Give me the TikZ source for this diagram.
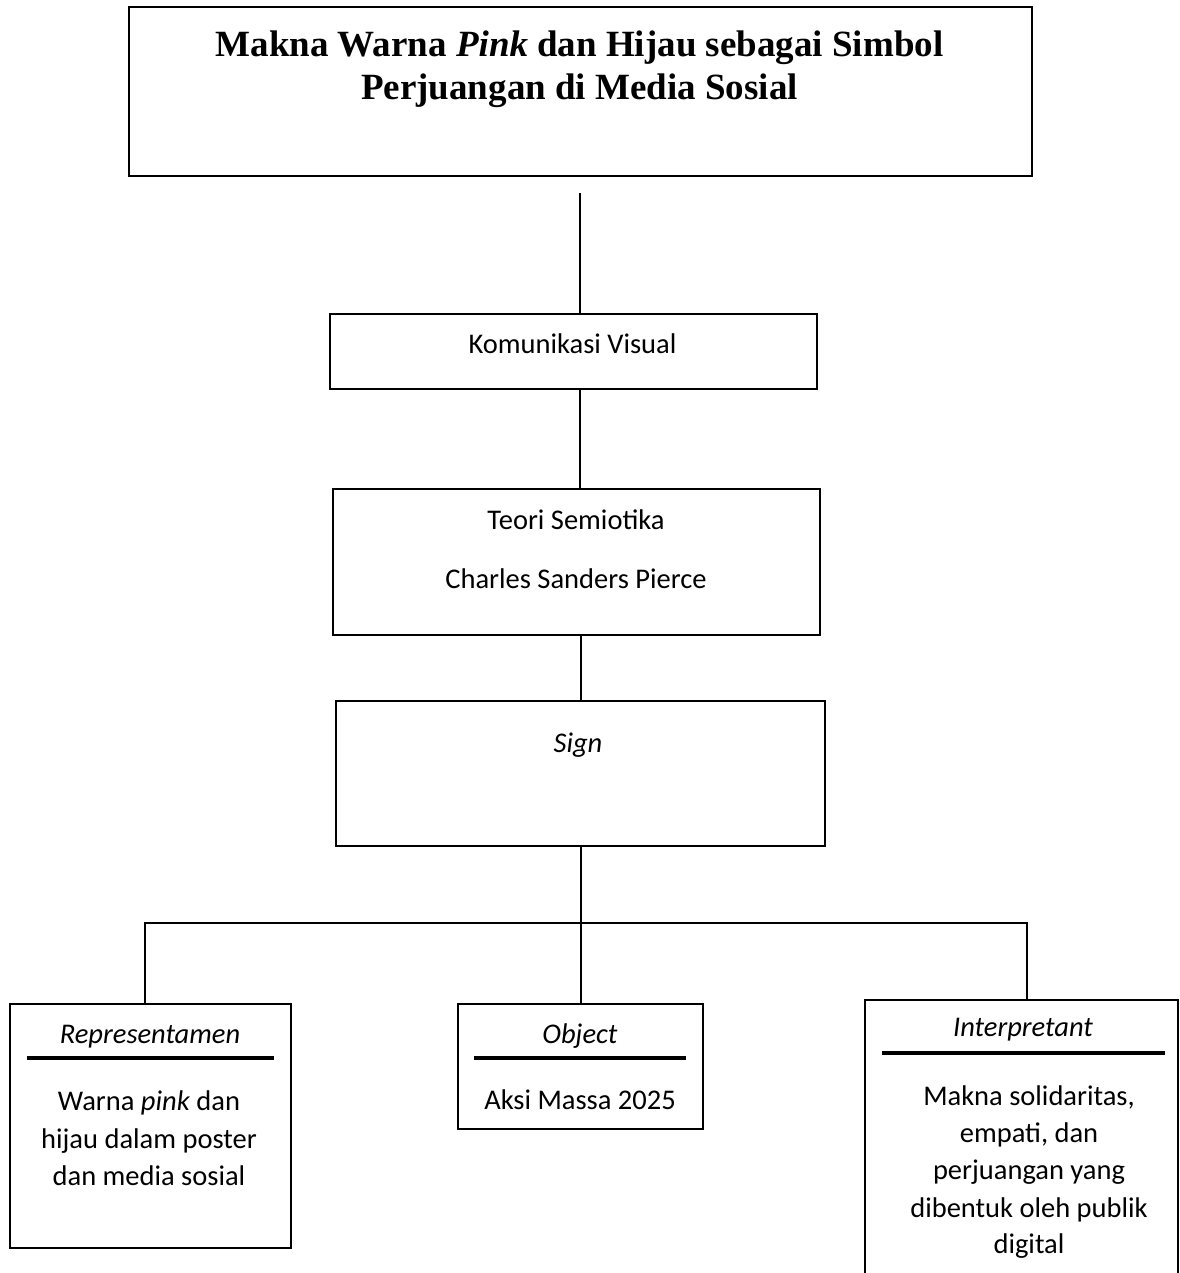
\documentclass[tikz,border=0pt]{standalone}
\usepackage{fontspec}
\setmainfont{Carlito}
\newfontfamily\titlefont{Liberation Serif}
\begin{document}
\begin{tikzpicture}[x=1pt,y=-1pt,
  box/.style={draw, line width=2.2pt, inner sep=0pt, anchor=north west},
  conn/.style={line width=1.2pt},
  rulebar/.style={line width=3.5pt},
  body/.style={font=\fontsize{28.5}{37.5}\selectfont, inner sep=0pt, anchor=base},
  ttl/.style={font=\titlefont\bfseries\fontsize{37}{43}\selectfont, inner sep=0pt, anchor=base}]
\useasboundingbox (0,0) rectangle (1179,1273);

% boxes
\node[box, minimum width=903pt, minimum height=169pt] (title) at (128,6) {};
\node[box, minimum width=487pt, minimum height=75pt] (kom) at (329,313) {};
\node[box, minimum width=487pt, minimum height=146pt] (teori) at (332,488) {};
\node[box, minimum width=489pt, minimum height=145pt] (sign) at (335,700) {};
\node[box, minimum width=281pt, minimum height=244pt] (rep) at (9,1003) {};
\node[box, minimum width=245pt, minimum height=125pt] (obj) at (457,1003) {};
\node[box, minimum width=313pt, minimum height=300pt] (interp) at (864,999) {};

% texts
\node[ttl] (t1) at (579.5,57) {Makna Warna \textit{Pink} dan Hijau sebagai Simbol};
\node[ttl] (t2) at (579.5,100) {Perjuangan di Media Sosial};
\node[body] (komt) at (572.5,353) {Komunikasi Visual};
\node[body] (teorit1) at (576,529) {Teori Semiotika};
\node[body] (teorit2) at (576,588) {Charles Sanders Pierce};
\node[body] (signt) at (578,752) {\textit{Sign}};

\node[body] (rept) at (150,1043) {\textit{Representamen}};
\node[body] (repb1) at (149,1110) {Warna \textit{pink} dan};
\node[body] (repb2) at (149,1148) {hijau dalam poster};
\node[body] (repb3) at (149,1185) {dan media sosial};

\node[body] (objt) at (580,1043) {\textit{Object}};
\node[body] (objb) at (580,1109) {Aksi Massa 2025};

\node[body] (intt) at (1023,1036) {\textit{Interpretant}};
\node[body] (intb1) at (1029,1105) {Makna solidaritas,};
\node[body] (intb2) at (1029,1142) {empati, dan};
\node[body] (intb3) at (1029,1179) {perjuangan yang};
\node[body] (intb4) at (1029,1217) {dibentuk oleh publik};
\node[body] (intb5) at (1029,1253) {digital};

% header rules
\draw[rulebar] (27,1058) -- (274,1058);
\draw[rulebar] (474,1058) -- (686,1058);
\draw[rulebar] (882,1053) -- (1165,1053);

% connectors
\coordinate (c0) at (580,193);
\coordinate (c1) at (581,0);
\coordinate (hl) at (145,923);
\coordinate (hr) at (1027,923);
\draw[conn] (c0) -- (kom.north -| c0);
\draw[conn] (kom.south -| c0) -- (teori.north -| c0);
\draw[conn] (teori.south -| c1) -- (sign.north -| c1);
\draw[conn] (sign.south -| c1) -- (obj.north -| c1);
\draw[conn] (rep.north -| hl) -- (hl) -- (hr) -- (interp.north -| hr);
\end{tikzpicture}
\end{document}
